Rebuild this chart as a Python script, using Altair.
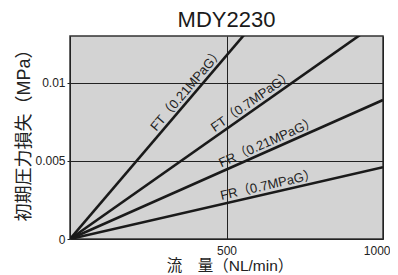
import math
import altair as alt
import pandas as pd

# data
series = ["FT（0.21MPaG）", "FT（0.7MPaG）", "FR（0.21MPaG）", "FR（0.7MPaG）"]
flow_end = [1000, 1000, 1000, 1000]
loss_end = [0.0235, 0.0141, 0.0089, 0.0046]
label_flow = [393, 596, 642, 640]

x_ticks = [0, 500, 1000]
y_ticks = [0, 0.005, 0.01]
x_max = 1000
y_max = 0.013

W, H = 313, 203
FONT = "Liberation Sans, Arial, Noto Sans CJK JP"

rows = []
for s, fe, le in zip(series, flow_end, loss_end):
    rows.append({"series": s, "flow": 0, "loss": 0.0})
    rows.append({"series": s, "flow": fe, "loss": le})
lines_df = pd.DataFrame(rows)

lab_rows = []
for s, fe, le, lf in zip(series, flow_end, loss_end, label_flow):
    slope = le / fe
    px_slope = (slope * x_max / y_max) * H / W
    ang = 360 - math.degrees(math.atan(px_slope))
    lab_rows.append({"series": s, "flow": lf, "loss": slope * lf, "angle": ang})
lab_df = pd.DataFrame(lab_rows)

xs = alt.Scale(domain=[0, x_max], nice=False, zero=True)
ys = alt.Scale(domain=[0, y_max], nice=False, zero=True)

x_axis = alt.Axis(values=x_ticks, title="流　量（NL/min）", grid=True,
                  gridColor="#222222", gridWidth=1, gridOpacity=1,
                  domain=False, ticks=False, labelPadding=6,
                  labelFlush=True, labelFlushOffset=7,
                  labelExpr="datum.value == 0 ? '' : format(datum.value, 'd')",
                  titleX=W / 2 + 3, titleY=26,
                  titleBaseline="middle", titleAlign="center")
y_axis = alt.Axis(values=y_ticks, title="初期圧力損失（MPa）", grid=True,
                  gridColor="#222222", gridWidth=1, gridOpacity=1,
                  domain=False, ticks=True, tickSize=3, tickColor="#222222",
                  labelPadding=2, labelFlush=False,
                  labelExpr="format(datum.value, '')",
                  titleX=-46, titleY=H / 2 - 7,
                  titleAngle=-90, titleBaseline="middle", titleAlign="center")

lines = alt.Chart(lines_df).mark_line(color="#1a1a1a", strokeWidth=2.6, clip=True).encode(
    x=alt.X("flow:Q", scale=xs, axis=x_axis),
    y=alt.Y("loss:Q", scale=ys, axis=y_axis),
    detail="series:N",
)

labels = alt.Chart(lab_df).mark_text(
    font=FONT, fontSize=13, color="#222222", align="center",
    baseline="bottom", dy=-1,
).encode(
    x=alt.X("flow:Q", scale=xs),
    y=alt.Y("loss:Q", scale=ys),
    text="series:N",
    angle=alt.Angle("angle:Q", scale=None),
)

chart = alt.layer(lines, labels).properties(
    width=W, height=H,
    title=alt.TitleParams("MDY2230", fontSize=22, font=FONT, fontWeight="normal",
                          color="#1a1a1a", anchor="middle", offset=4),
    autosize=alt.AutoSizeParams(type="none"),
    padding={"left": 62, "top": 28, "right": 7, "bottom": 35},
).configure(background="white").configure_view(
    fill="#d3d3d3", stroke="#333333", strokeWidth=1.5,
).configure_axis(
    labelFont=FONT, labelFontSize=12, labelColor="#222222",
    titleFont=FONT, titleFontWeight="normal", titleColor="#222222",
).configure_axisX(titleFontSize=15.5).configure_axisY(titleFontSize=18)

chart.save("out.html", embed_options={"renderer": "svg", "actions": False})
